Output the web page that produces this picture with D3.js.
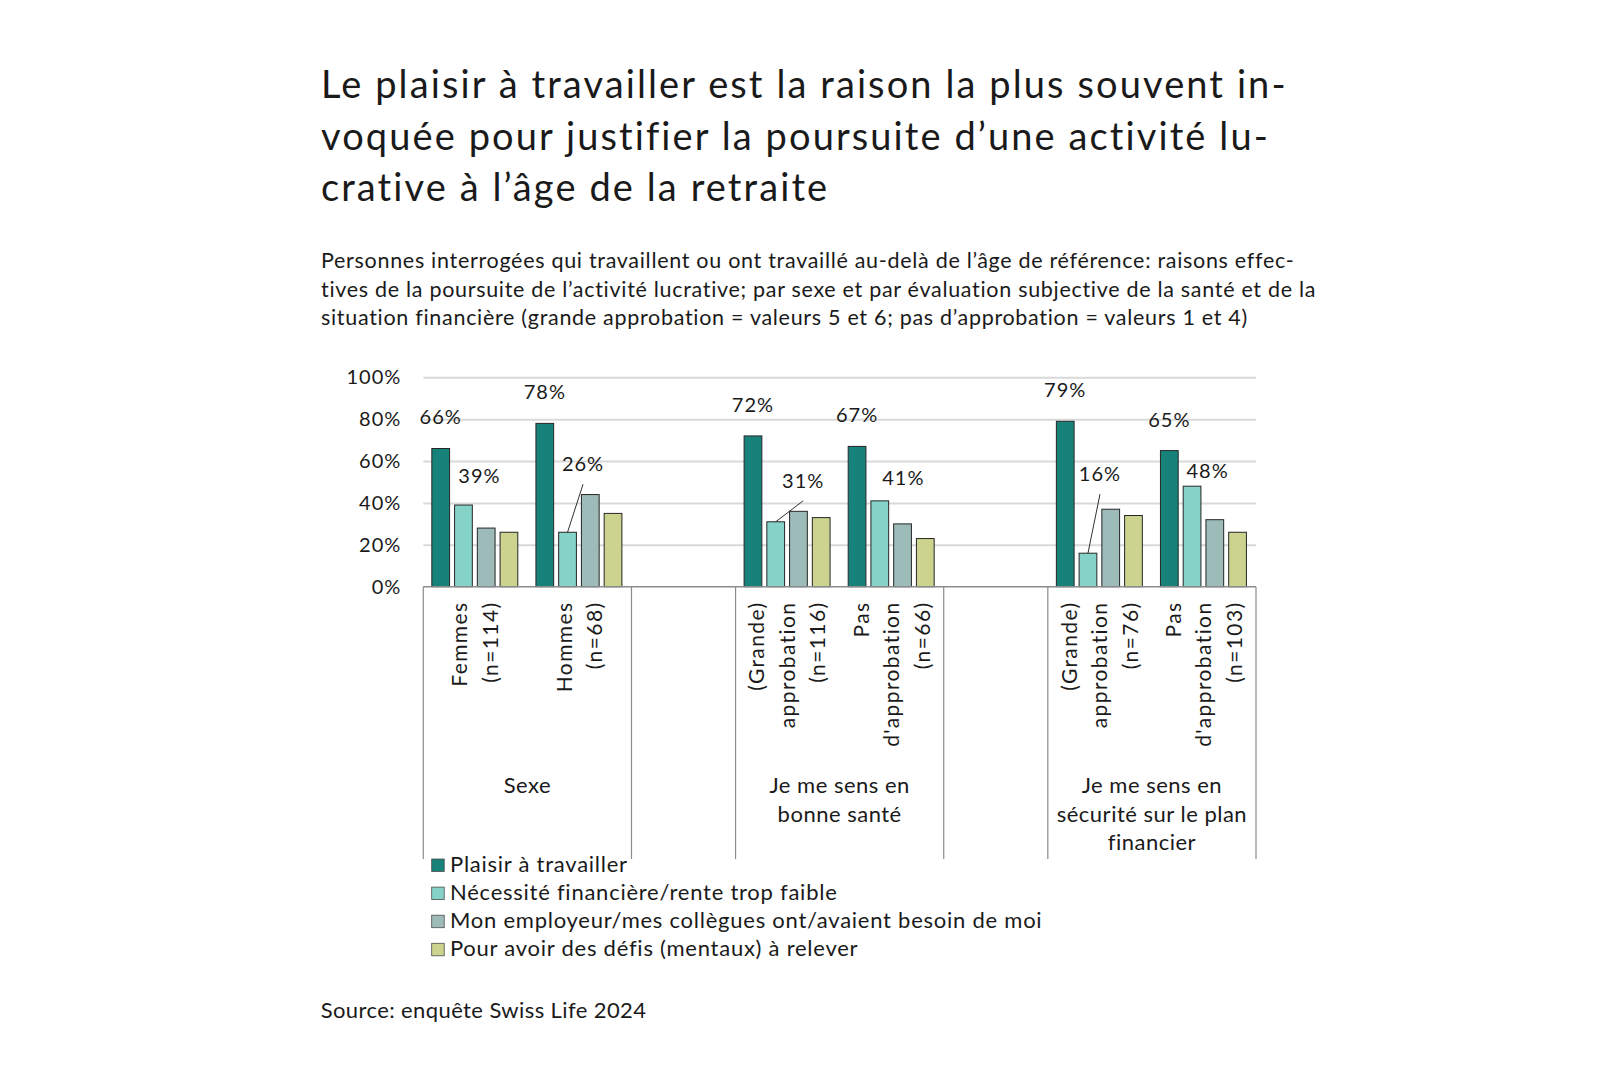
<!DOCTYPE html>
<html>
<head>
<meta charset="utf-8">
<script src="https://cdn.jsdelivr.net/npm/d3@7"></script>
<style>
    body { margin: 0; background: #fff; }
    svg text { font-family: Lato, "Open Sans", sans-serif; fill: #1a1a1a; }
</style>
</head>
<body>
<svg id="drawing_region"></svg>
<script>
// ---- data ----
const titleLines = [
    "Le plaisir à travailler est la raison la plus souvent in-",
    "voquée pour justifier la poursuite d’une activité lu-",
    "crative à l’âge de la retraite"
];
const subtitleLines = [
    "Personnes interrogées qui travaillent ou ont travaillé au-delà de l’âge de référence: raisons effec-",
    "tives de la poursuite de l’activité lucrative; par sexe et par évaluation subjective de la santé et de la",
    "situation financière (grande approbation = valeurs 5 et 6; pas d’approbation = valeurs 1 et 4)"
];
const categories = [
    ["Femmes", "(n=114)"],
    ["Hommes", "(n=68)"],
    [],
    ["(Grande)", "approbation", "(n=116)"],
    ["Pas", "d'approbation", "(n=66)"],
    [],
    ["(Grande)", "approbation", "(n=76)"],
    ["Pas", "d'approbation", "(n=103)"]
];
const groupLabels = [
    ["Sexe"],
    [],
    ["Je me sens en", "bonne santé"],
    [],
    ["Je me sens en", "sécurité sur le plan", "financier"]
];
const groupSizes = [2, 1, 2, 1, 2];
const seriesNames = [
    "Plaisir à travailler",
    "Nécessité financière/rente trop faible",
    "Mon employeur/mes collègues ont/avaient besoin de moi",
    "Pour avoir des défis (mentaux) à relever"
];
const plaisir   = [66, 78, null, 72, 67, null, 79, 65];
const necessite = [39, 26, null, 31, 41, null, 16, 48];
const employeur = [28, 44, null, 36, 30, null, 37, 32];
const defis     = [26, 35, null, 33, 23, null, 34, 26];
const yTicks = [0, 20, 40, 60, 80, 100];
const source = "Source: enquête Swiss Life 2024";

// hand-placed labels of the 2nd series: [dx, dy, leader line]
const necessiteLabelShift = [[16, -22, false], [15.5, -61, true], null, [27.5, -34, true],
                             [23.5, -16, false], null, [12, -72, true], [15.5, -8, false]];
const colors = ["#17827a", "#85d2c8", "#9dbbb9", "#cbd38f"];

// ---- chart ----
const width = 1620, height = 1080;
const plot = { left: 423.3, right: 1256, top: 377.3, bottom: 586.7 };

const svg = d3.select('#drawing_region')
    .attr('width', width)
    .attr('height', height);

// title + subtitle
svg.append('g').selectAll('text')
    .data(titleLines)
    .join('text')
    .attr('x', 321)
    .attr('y', (d, i) => 98 + i * 51.5)
    .attr('font-size', 38)
    .attr('letter-spacing', 2.1)
    .text(d => d);

svg.append('g').selectAll('text')
    .data(subtitleLines)
    .join('text')
    .attr('x', 321)
    .attr('y', (d, i) => 268.3 + i * 28.4)
    .attr('font-size', 21.5)
    .attr('letter-spacing', 0.7)
    .text(d => d);

const series = [plaisir, necessite, employeur, defis];
const table = categories.map((c, i) => ({ i: i, lines: c, values: series.map(s => s[i]) }));

const xscale = d3.scaleBand()
    .domain(d3.range(categories.length))
    .range([plot.left, plot.right]);
const bw = xscale.bandwidth();
const xinner = d3.scaleBand()
    .domain(d3.range(series.length))
    .range([bw * 0.082, bw * 0.908])
    .paddingInner(0.22);
const yscale = d3.scaleLinear()
    .domain([0, 100])
    .range([plot.bottom, plot.top]);

// y axis + gridlines
svg.append('g')
    .attr('transform', `translate(${plot.left},0)`)
    .call(d3.axisLeft(yscale)
        .tickValues(yTicks)
        .tickSize(-(plot.right - plot.left))
        .tickPadding(22)
        .tickFormat(d => d + '%'))
    .call(g => g.select('.domain').remove())
    .call(g => g.selectAll('.tick line').attr('stroke', '#d9d9d9').attr('stroke-width', 2))
    .call(g => g.selectAll('.tick').filter(d => d === 0).select('line').remove())
    .call(g => g.selectAll('.tick text')
        .attr('font-size', 20)
        .attr('letter-spacing', 1)
        .attr('font-family', null));

// bars
const cat = svg.append('g').selectAll('g')
    .data(table)
    .join('g')
    .attr('transform', d => `translate(${xscale(d.i)},0)`);

cat.selectAll('rect')
    .data(d => d.values.map((v, s) => ({ v: v, s: s })).filter(e => e.v !== null))
    .join('rect')
    .attr('x', e => xinner(e.s))
    .attr('y', e => yscale(e.v))
    .attr('width', xinner.bandwidth())
    .attr('height', e => yscale(0) - yscale(e.v))
    .attr('fill', e => colors[e.s])
    .attr('stroke', '#262626')
    .attr('stroke-width', 1);

// value labels, series 1
cat.filter(d => d.values[0] !== null).append('text')
    .attr('x', xinner(0) + xinner.bandwidth() / 2)
    .attr('y', d => yscale(d.values[0]) - 24)
    .attr('text-anchor', 'middle')
    .attr('font-size', 20)
    .attr('letter-spacing', 1)
    .text(d => d.values[0] + '%');

// value labels, series 2 (moved by hand in the original)
const lab2 = cat.filter(d => d.values[1] !== null);
const cx2 = xinner(1) + xinner.bandwidth() / 2;
lab2.append('text')
    .attr('x', d => cx2 + necessiteLabelShift[d.i][0])
    .attr('y', d => yscale(d.values[1]) + necessiteLabelShift[d.i][1])
    .attr('text-anchor', 'middle')
    .attr('font-size', 20)
    .attr('letter-spacing', 1)
    .text(d => d.values[1] + '%');
lab2.filter(d => necessiteLabelShift[d.i][2]).append('line')
    .attr('x1', d => cx2 + necessiteLabelShift[d.i][0])
    .attr('y1', d => yscale(d.values[1]) + necessiteLabelShift[d.i][1] + 13)
    .attr('x2', cx2)
    .attr('y2', d => yscale(d.values[1]))
    .attr('stroke', '#1a1a1a')
    .attr('stroke-width', 0.9);

// x axis line
svg.append('line')
    .attr('x1', plot.left).attr('x2', plot.right)
    .attr('y1', yscale(0)).attr('y2', yscale(0))
    .attr('stroke', '#8c8c8c')
    .attr('stroke-width', 1.5);

// rotated category labels
cat.each(function(d) {
    const n = d.lines.length;
    d3.select(this).selectAll('text.cat')
        .data(d.lines)
        .join('text')
        .attr('class', 'cat')
        .attr('transform', (t, j) => `translate(${bw / 2 + (j - (n - 1) / 2) * 30.5},601.5) rotate(-90)`)
        .attr('dy', '0.35em')
        .attr('text-anchor', 'end')
        .attr('font-size', 21)
        .attr('letter-spacing', 1.4)
        .text(t => t);
});

// group separators + group labels
const bounds = [0].concat(Array.from(d3.cumsum(groupSizes)));
const bx = k => k < categories.length ? xscale(k) : plot.right;
svg.append('g').selectAll('line')
    .data(bounds)
    .join('line')
    .attr('x1', k => bx(k)).attr('x2', k => bx(k))
    .attr('y1', yscale(0)).attr('y2', 859)
    .attr('stroke', '#8c8c8c')
    .attr('stroke-width', 1.2);

const grp = svg.append('g').selectAll('g')
    .data(groupLabels)
    .join('g')
    .attr('transform', (d, i) => `translate(${(bx(bounds[i]) + bx(bounds[i + 1])) / 2},0)`);
grp.selectAll('text')
    .data(d => d)
    .join('text')
    .attr('y', (t, j) => 793.3 + j * 28.5)
    .attr('text-anchor', 'middle')
    .attr('font-size', 22)
    .attr('letter-spacing', 0.5)
    .text(t => t);

// legend
const legend = svg.append('g')
    .attr('transform', 'translate(431.7,871.5)');
const item = legend.selectAll('g')
    .data(seriesNames)
    .join('g')
    .attr('transform', (d, i) => `translate(0,${i * 28.1})`);
item.append('rect')
    .attr('y', -12.5)
    .attr('width', 12.5)
    .attr('height', 12.5)
    .attr('fill', (d, i) => colors[i])
    .attr('stroke', '#4d4d4d')
    .attr('stroke-width', 0.8);
item.append('text')
    .attr('x', 18.3)
    .attr('font-size', 22)
    .attr('letter-spacing', 0.75)
    .text(d => d);

// source
svg.append('text')
    .attr('x', 320.7)
    .attr('y', 1017.7)
    .attr('font-size', 22)
    .attr('letter-spacing', 0.4)
    .text(source);
</script>
</body>
</html>
